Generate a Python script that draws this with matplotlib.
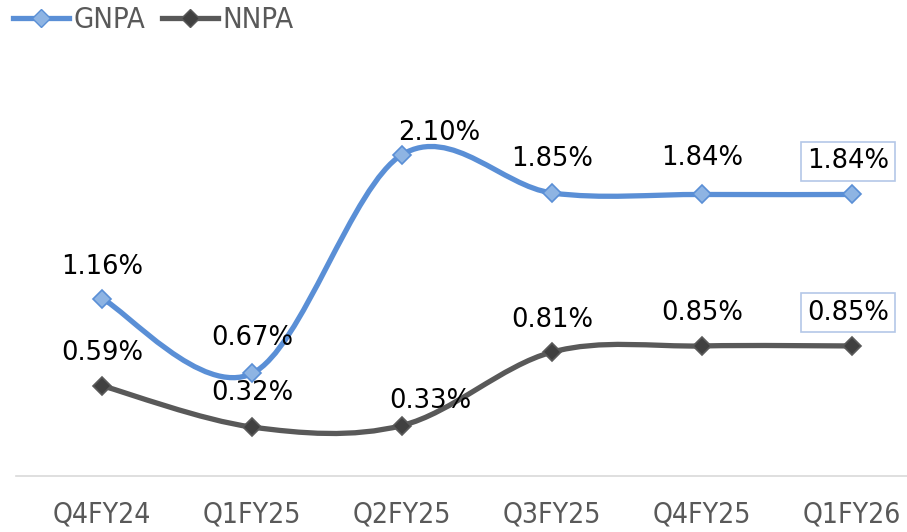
import matplotlib
matplotlib.use("Agg")
import matplotlib.pyplot as plt
from matplotlib.path import Path
from matplotlib.patches import PathPatch
from matplotlib.lines import Line2D

quarters = ["Q4FY24", "Q1FY25", "Q2FY25", "Q3FY25", "Q4FY25", "Q1FY26"]
gnpa = [1.16, 0.67, 2.10, 1.85, 1.84, 1.84]
nnpa = [0.59, 0.32, 0.33, 0.81, 0.85, 0.85]

# label offsets from each point, in pixels (dx, dy)
gnpa_offsets = [(0, 32), (0, 35), (37, 22), (0, 34), (0, 36), (-4, 33)]
nnpa_offsets = [(0, 33), (0, 34), (28, 25), (0, 32), (0, 33), (-4, 33)]

BLUE = "#5A8FD6"
BLUE_FILL = "#8EB4E3"
DARK = "#595959"
DARK_FILL = "#404040"


def smooth_path(xs, ys):
    """Excel-style smoothed line: Catmull-Rom as cubic Bezier segments."""
    pts = list(zip(xs, ys))
    verts = [pts[0]]
    codes = [Path.MOVETO]
    n = len(pts)
    for i in range(n - 1):
        p0 = pts[i - 1] if i > 0 else pts[i]
        p1 = pts[i]
        p2 = pts[i + 1]
        p3 = pts[i + 2] if i + 2 < n else pts[i + 1]
        c1 = (p1[0] + (p2[0] - p0[0]) / 6, p1[1] + (p2[1] - p0[1]) / 6)
        c2 = (p2[0] - (p3[0] - p1[0]) / 6, p2[1] - (p3[1] - p1[1]) / 6)
        verts += [c1, c2, p2]
        codes += [Path.CURVE4] * 3
    return Path(verts, codes)


W, H = 907, 532
fig = plt.figure(figsize=(W / 100, H / 100), dpi=100)

# axes: y=0 at pixel 476, 153 px per 1%; categories 150 px apart starting at x=102
ax_left, ax_bottom = 16, 476
ymax = 2.5
ax = fig.add_axes([ax_left / W, (H - ax_bottom) / H, (W - ax_left) / W, ymax * 153 / H])
ax.set_xlim((ax_left - 102) / 150, (W - 102) / 150)
ax.set_ylim(0, ymax)

x = list(range(len(quarters)))
for vals, col, fill in [(nnpa, DARK, DARK_FILL), (gnpa, BLUE, BLUE_FILL)]:
    ax.add_patch(PathPatch(smooth_path(x, vals), fill=False, edgecolor=col,
                           lw=3.8, capstyle="round", joinstyle="round", zorder=2))
    ax.plot(x, vals, ls="none", marker="D", ms=9.5, mfc=fill, mec=col, mew=1.2, zorder=3)

for vals, offs in [(gnpa, gnpa_offsets), (nnpa, nnpa_offsets)]:
    for i, (v, (dx, dy)) in enumerate(zip(vals, offs)):
        boxed = i == len(vals) - 1
        ax.annotate(f"{v:.2f}%", (i, v), xytext=(dx, dy), textcoords="offset pixels",
                    ha="center", va="center", fontsize=18.6, color="black",
                    family="DejaVu Sans", zorder=4,
                    bbox=dict(boxstyle="square,pad=0.25", fc="white", ec="#B4C7E7", lw=1.2)
                    if boxed else None)

for s in ["top", "left", "right"]:
    ax.spines[s].set_visible(False)
ax.spines["bottom"].set_color("#D9D9D9")
ax.spines["bottom"].set_linewidth(1.2)
ax.set_yticks([])
ax.set_xticks(x)
ax.set_xticklabels(quarters, fontsize=23, color=DARK, family="DejaVu Sans",
                   fontstretch="condensed")
ax.tick_params(axis="x", length=0, pad=18)

handles = [Line2D([], [], color=BLUE, lw=3.8, marker="D", ms=9.5, mfc=BLUE_FILL, mec=BLUE),
           Line2D([], [], color=DARK, lw=3.8, marker="D", ms=9.5, mfc=DARK_FILL, mec=DARK)]
fig.legend(handles, ["GNPA", "NNPA"], loc="upper left",
           bbox_to_anchor=(9 / W, 1 - 2 / H), ncol=2, frameon=False,
           handlelength=1.9, handletextpad=0.15, columnspacing=0.6,
           borderaxespad=0.0, borderpad=0.15,
           prop={"family": "DejaVu Sans", "stretch": "condensed", "size": 21},
           labelcolor=DARK)

# keep the tick labels at the reference width (about 99 px each)
fig.canvas.draw()
r = fig.canvas.get_renderer()
w = ax.get_xticklabels()[0].get_window_extent(r).width
if w > 105:
    for t in ax.get_xticklabels():
        t.set_fontsize(23 * 99 / w)

fig.savefig("out.png", dpi=100)
